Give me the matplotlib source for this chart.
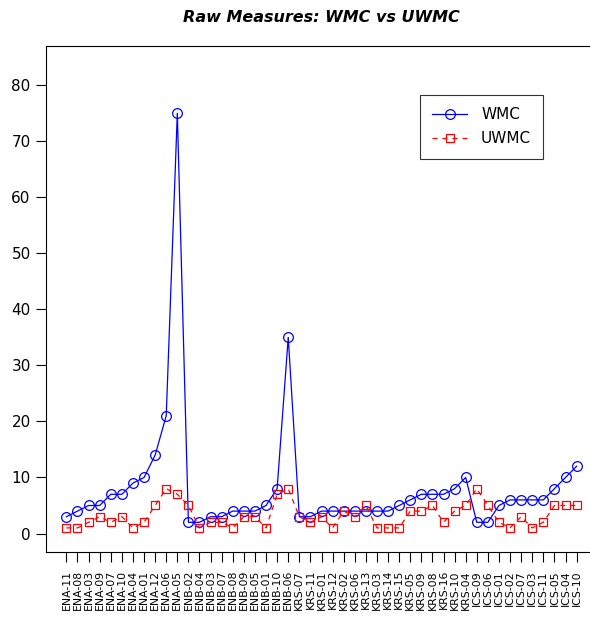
import numpy as np
import matplotlib
matplotlib.use("Agg")
import matplotlib.pyplot as plt

labels = ["ENA-11", "ENA-08", "ENA-03", "ENA-09", "ENA-07", "ENA-10", "ENA-04",
          "ENA-01", "ENA-12", "ENA-06", "ENA-05",
          "ENB-02", "ENB-04", "ENB-03", "ENB-07", "ENB-08", "ENB-09", "ENB-05",
          "ENB-01", "ENB-10", "ENB-06",
          "KRS-07", "KRS-11", "KRS-01", "KRS-12", "KRS-02", "KRS-06", "KRS-13",
          "KRS-03", "KRS-14", "KRS-15", "KRS-05", "KRS-09", "KRS-08", "KRS-16",
          "KRS-10", "KRS-04",
          "ICS-09", "ICS-06", "ICS-01", "ICS-02", "ICS-07", "ICS-03", "ICS-11",
          "ICS-05", "ICS-04", "ICS-10"]

wmc = [3, 4, 5, 5, 7, 7, 9, 10, 14, 21, 75,
       2, 2, 3, 3, 4, 4, 4, 5, 8, 35,
       3, 3, 4, 4, 4, 4, 4, 4, 4, 5, 6, 7, 7, 7, 8, 10,
       2, 2, 5, 6, 6, 6, 6, 8, 10, 12]

uwmc = [1, 1, 2, 3, 2, 3, 1, 2, 5, 8, 7,
        5, 1, 2, 2, 1, 3, 3, 1, 7, 8,
        3, 2, 3, 1, 4, 3, 5, 1, 1, 1, 4, 4, 5, 2, 4, 5,
        8, 5, 2, 1, 3, 1, 2, 5, 5, 5]

x = np.arange(1, len(wmc) + 1)

fig = plt.figure(figsize=(5.9, 6.28), dpi=100)
ax = fig.add_axes([46 / 590, 1 - 552 / 628, (597 - 46) / 590, (552 - 46) / 628])

ax.plot(x, wmc, color="#0000FF", lw=0.9, marker="o", ms=7, mfc="none",
        mec="#0000FF", mew=0.9, label="WMC")
ax.plot(x, uwmc, color="#FF0000", lw=0.9, ls=(0, (4, 4)), marker="s", ms=5.5,
        mfc="none", mec="#FF0000", mew=0.9, label="UWMC")

ax.set_xlim(1 - 0.04 * 46, 47 + 0.04 * 46)
ax.set_ylim(-3.3, 87)
ax.set_yticks(range(0, 81, 10))
ax.set_xticks(x)
ax.set_xticklabels(labels, rotation=90, fontsize=7.8)
ax.tick_params(axis="y", direction="out", length=7, labelsize=11, pad=4)
ax.tick_params(axis="x", direction="out", length=7, pad=6)
for s in ax.spines.values():
    s.set_linewidth(0.8)

fig.text(321 / 590, 1 - 18 / 628, "Raw Measures: WMC vs UWMC", ha="center",
         va="center", fontsize=11.5, fontweight="bold", fontstyle="italic")

leg = ax.legend(loc="upper left", bbox_to_anchor=(420 / 590, 1 - 95 / 628),
                bbox_transform=fig.transFigure, fancybox=False, fontsize=11,
                handlelength=2.3, borderpad=0.8, labelspacing=0.6,
                handletextpad=0.9, borderaxespad=0)
leg.get_frame().set_edgecolor("black")
leg.get_frame().set_linewidth(0.8)

fig.savefig("out.png", dpi=100)
